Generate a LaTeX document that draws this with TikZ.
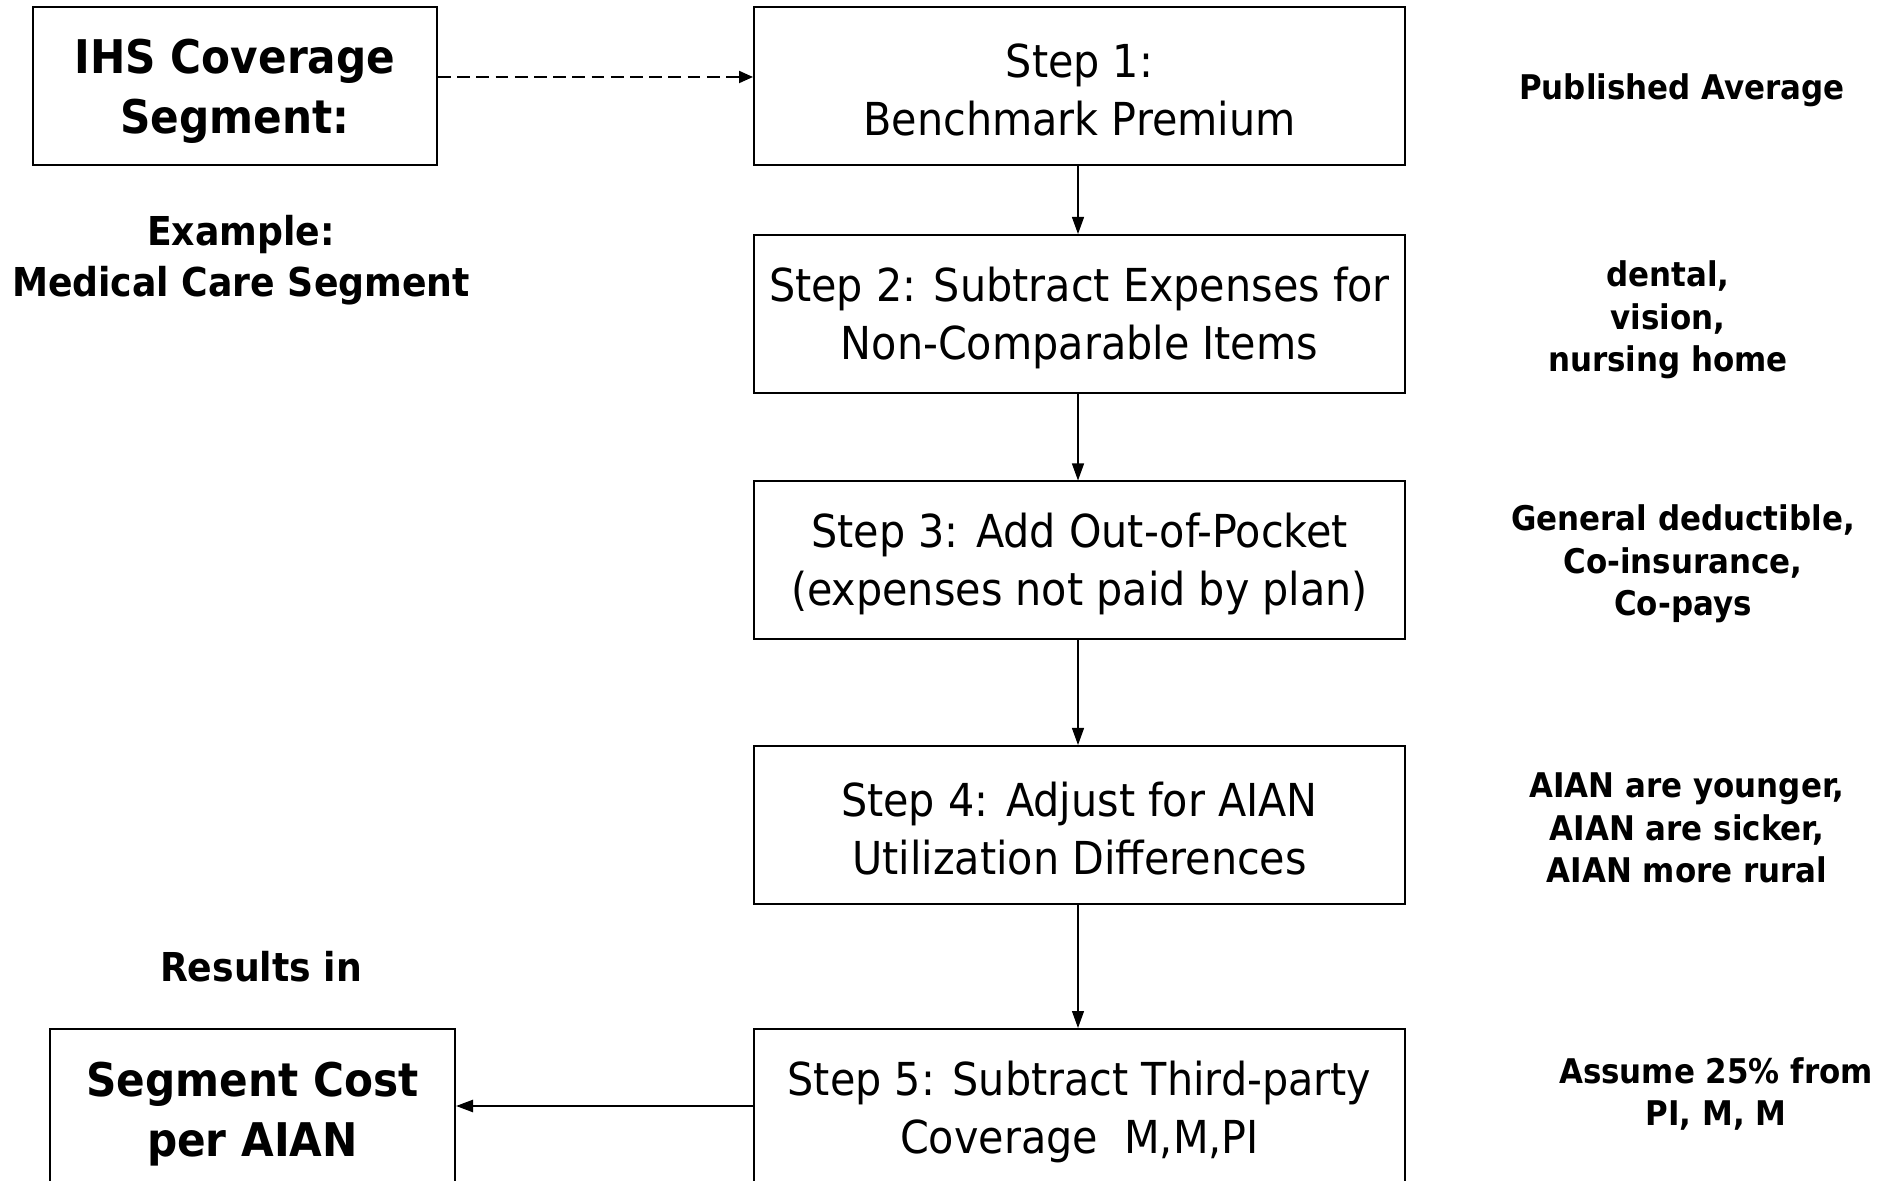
\documentclass[tikz,border=0pt]{standalone}
\usepackage{fontspec}
\setmainfont{DejaVu Sans}[FakeStretch=0.91]
\usetikzlibrary{arrows.meta}
\newcommand{\stepstrut}{\rule{0pt}{21pt}}
\newcommand{\boldstrut}{\rule{0pt}{23pt}}
\begin{document}
\begin{tikzpicture}[x=0.5pt,y=-0.5pt,
  box/.style={draw, line width=1pt, inner sep=0pt, align=center},
  stepbox/.style={box, minimum width=325.5pt, minimum height=79pt, font=\fontsize{22.7}{29}\selectfont},
  bigbold/.style={font=\fontsize{23.2}{30}\selectfont\bfseries},
  midbold/.style={align=center, inner sep=0pt, font=\fontsize{19.9}{25.5}\selectfont\bfseries},
  sidenote/.style={align=center, inner sep=0pt, font=\fontsize{17}{21.2}\selectfont\bfseries},
  arr/.style={line width=0.6pt, -{Triangle[length=8.5pt,width=6pt]}},
  dasharr/.style={line width=1pt, dash pattern=on 6.4pt off 3.2pt, -{Triangle[length=7pt,width=6pt]}}
]
\useasboundingbox (0,0) rectangle (1902,1181);
\clip (0,0) rectangle (1902,1181);

\node[box, bigbold, minimum width=202pt, minimum height=79pt] (ihs) at (235,86) {\boldstrut IHS Coverage\\Segment:};
\node[midbold] (example) at (241,260) {Example:\\Medical Care Segment};
\node[midbold] (results) at (261,967) {Results in};
\node[box, bigbold, minimum width=202.5pt, minimum height=79pt] (seg) at (252.5,1108) {\boldstrut Segment Cost\\per AIAN};

\node[stepbox] (s1) at (1079.5,86) {\stepstrut Step 1:\\Benchmark Premium};
\node[stepbox] (s2) at (1079.5,314) {\stepstrut Step 2: Subtract Expenses for\\Non-Comparable Items};
\node[stepbox] (s3) at (1079.5,560.5) {\stepstrut Step 3: Add Out-of-Pocket\\(expenses not paid by plan)};
\node[stepbox] (s4) at (1079.5,825) {\stepstrut Step 4: Adjust for AIAN\\Utilization Differences};
\node[stepbox] (s5) at (1079.5,1108) {\stepstrut Step 5: Subtract Third-party\\Coverage\ \ M,M,PI};

\node[sidenote] (n1) at (1682,90) {Published Average};
\node[sidenote] (n2) at (1668,320) {dental,\\vision,\\nursing home};
\node[sidenote] (n3) at (1683,564) {General deductible,\\Co-insurance,\\Co-pays};
\node[sidenote] (n4) at (1687,828) {AIAN are younger,\\AIAN are sicker,\\AIAN more rural};
\node[sidenote] (n5) at (1716,1094) {Assume 25\% from\\PI, M, M};

\draw[dasharr] ([yshift=4.5pt]ihs.east) -- ([yshift=4.5pt]s1.west);
\draw[arr] ([xshift=-0.75pt]s1.south) -- ([xshift=-0.75pt]s2.north);
\draw[arr] ([xshift=-0.75pt]s2.south) -- ([xshift=-0.75pt]s3.north);
\draw[arr] ([xshift=-0.75pt]s3.south) -- ([xshift=-0.75pt]s4.north);
\draw[arr] ([xshift=-0.75pt]s4.south) -- ([xshift=-0.75pt]s5.north);
\draw[line width=1.2pt, -{Triangle[length=8.5pt,width=6pt]}] ([yshift=1pt]s5.west) -- ([yshift=1pt]seg.east);
\end{tikzpicture}
\end{document}
